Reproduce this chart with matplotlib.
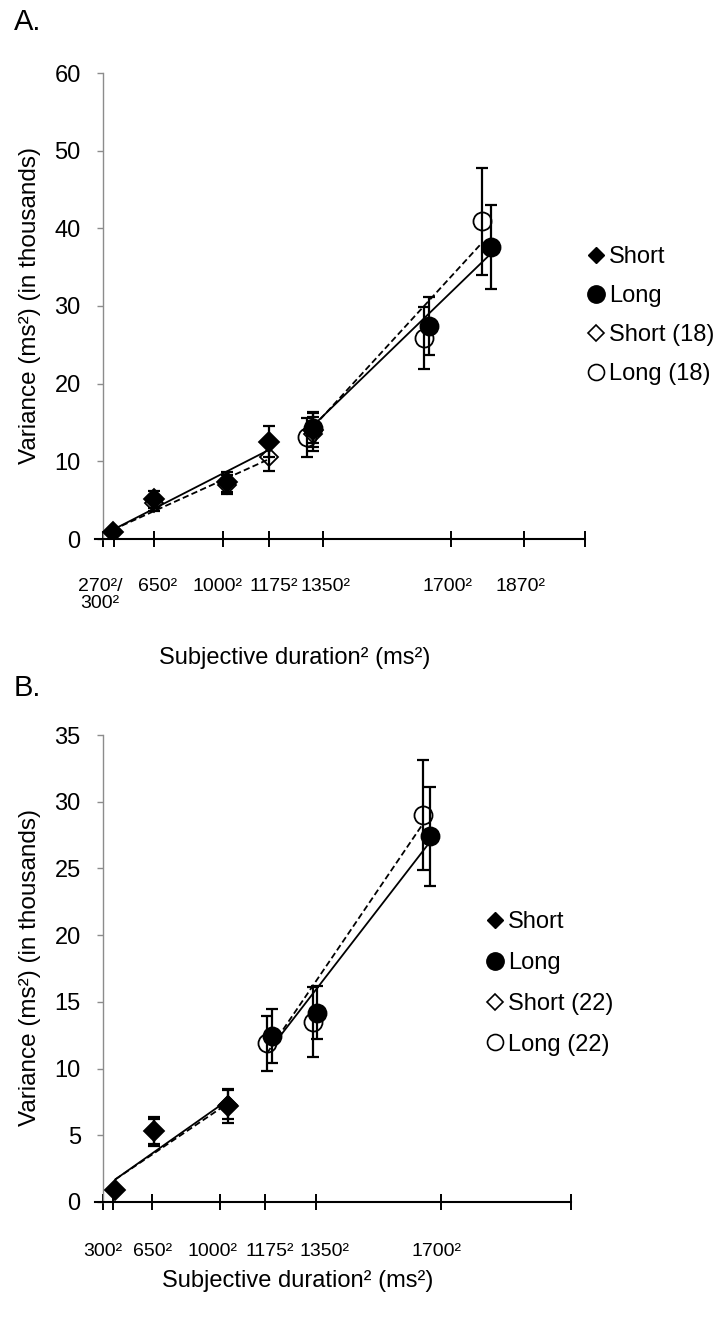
import numpy as np
import matplotlib
matplotlib.use("Agg")
import matplotlib.pyplot as plt
from matplotlib.lines import Line2D
import matplotlib.transforms as mtransforms

plt.rcParams['font.family'] = ['Liberation Sans', 'DejaVu Sans']

# ---- panel A data (x in ms^2, y in thousands of ms^2) ----
a_short_x = [83500, 421500, 1033000, 1380000, 1744000]
a_short_y = [0.9, 5.1, 7.3, 12.5, 14.0]
a_short_err = [0.3, 1.1, 1.3, 2.0, 2.2]
a_long_x = [1744000, 2702000, 3223000]
a_long_y = [14.3, 27.4, 37.6]
a_long_err = [2.0, 3.7, 5.4]
a_short18_x = [83500, 421500, 1033000, 1380000, 1744000]
a_short18_y = [0.9, 4.6, 7.0, 10.6, 13.5]
a_short18_err = [0.3, 1.0, 1.2, 1.8, 2.2]
a_long18_x = [1696000, 2661000, 3149000]
a_long18_y = [13.1, 25.9, 40.9]
a_long18_err = [2.5, 4.0, 6.9]

# trend lines (end points)
a_short_fit_x = [83500, 1380000]
a_short_fit_y = [1.2, 11.5]
a_short18_fit_x = [83500, 1380000]
a_short18_fit_y = [1.2, 10.3]
a_long_fit_x = [1744000, 3223000]
a_long_fit_y = [14.6, 36.8]
a_long18_fit_x = [1696000, 3149000]
a_long18_fit_y = [13.6, 38.2]

a_ticks = [0, 300**2, 650**2, 1000**2, 1175**2, 1350**2, 1700**2, 1870**2, 4000000]
a_tick_labels = ["270²/\n300²", "650²", "1000²", "1175²", "1350²", "1700²", "1870²"]
a_label_pos = [-24000, 454000, 951000, 1414000, 1844000, 2860000, 3464000]

# ---- panel B data ----
b_short_x = [106700, 438000, 1069000]
b_short_y = [0.9, 5.3, 7.2]
b_short_err = [0.2, 1.1, 1.25]
b_long_x = [1444700, 1829000, 2796000]
b_long_y = [12.45, 14.2, 27.4]
b_long_err = [2.0, 2.0, 3.7]
b_short22_x = [106700, 438000, 1069000]
b_short22_y = [0.9, 5.3, 7.3]
b_short22_err = [0.2, 0.95, 1.1]
b_long22_x = [1402000, 1797000, 2739000]
b_long22_y = [11.9, 13.5, 29.0]
b_long22_err = [2.05, 2.65, 4.1]

b_short_fit_x = [106700, 1069000]
b_short_fit_y = [1.7, 7.65]
b_short22_fit_x = [106700, 1069000]
b_short22_fit_y = [1.7, 7.4]
b_long_fit_x = [1444700, 2796000]
b_long_fit_y = [11.65, 27.0]
b_long22_fit_x = [1402000, 2739000]
b_long22_fit_y = [11.15, 28.4]

b_ticks = [0, 300**2, 650**2, 1000**2, 1175**2, 1350**2, 1700**2, 4000000]
b_tick_labels = ["300²", "650²", "1000²", "1175²", "1350²", "1700²"]
b_label_pos = [0, 422000, 937000, 1422000, 1891000, 2850000]

W, H = 718, 1322
fig = plt.figure(figsize=(W / 100, H / 100), dpi=100)


def px_axes(l, t, r, b):
    return fig.add_axes([l / W, 1 - b / H, (r - l) / W, (b - t) / H])


def panel(ax, series, fits, ymax, ystep, ticks, labels, label_pos, xmin, lab_y):
    ax.set_xlim(xmin, 4000000)
    ax.set_ylim(0, ymax)
    for s in ['top', 'right']:
        ax.spines[s].set_visible(False)
    ax.spines['left'].set_position(('data', 0))
    ax.spines['left'].set_color('#8c8c8c')
    ax.spines['left'].set_linewidth(1.0)
    ax.spines['bottom'].set_linewidth(1.5)
    ax.set_yticks(np.arange(0, ymax + 1, ystep))
    ax.tick_params(axis='y', direction='out', length=4, width=1, color='#8c8c8c',
                   labelsize=17, pad=12)
    ax.set_xticks(ticks)
    ax.tick_params(axis='x', direction='inout', length=12, width=1.4,
                   labelbottom=False)

    # trend lines
    for (fx, fy, ls) in fits:
        ax.plot(fx, fy, color='black', lw=1.3, linestyle=ls, zorder=2)

    for (x, y, e, marker, ms, filled) in series:
        ax.errorbar(x, y, yerr=e, fmt='none', ecolor='black', elinewidth=1.6,
                    capsize=4, capthick=1.6, zorder=3)
        ax.plot(x, y, linestyle='none', marker=marker, markersize=ms,
                markerfacecolor='black' if filled else 'none',
                markeredgecolor='black', markeredgewidth=1.3, zorder=4)

    trans = mtransforms.blended_transform_factory(ax.transData, ax.transAxes)
    for pos, lab in zip(label_pos, labels):
        ax.text(pos, lab_y, lab, transform=trans, ha='center', va='top',
                fontsize=14, linespacing=1.05)


dash = (0, (3.5, 1.8))

axA = px_axes(95, 73, 585, 539)
panel(axA,
      [(a_short18_x, a_short18_y, a_short18_err, 'D', 9.5, False),
       (a_long18_x, a_long18_y, a_long18_err, 'o', 13, False),
       (a_short_x, a_short_y, a_short_err, 'D', 10.5, True),
       (a_long_x, a_long_y, a_long_err, 'o', 13, True)],
      [(a_short_fit_x, a_short_fit_y, '-'), (a_short18_fit_x, a_short18_fit_y, dash),
       (a_long_fit_x, a_long_fit_y, '-'), (a_long18_fit_x, a_long18_fit_y, dash)],
      60, 10, a_ticks, a_tick_labels, a_label_pos, -66000, -0.083)

axB = px_axes(95, 735, 571, 1202)
panel(axB,
      [(b_short22_x, b_short22_y, b_short22_err, 'D', 9.5, False),
       (b_long22_x, b_long22_y, b_long22_err, 'o', 13, False),
       (b_short_x, b_short_y, b_short_err, 'D', 10.5, True),
       (b_long_x, b_long_y, b_long_err, 'o', 13, True)],
      [(b_short_fit_x, b_short_fit_y, '-'), (b_short22_fit_x, b_short22_fit_y, dash),
       (b_long_fit_x, b_long_fit_y, '-'), (b_long22_fit_x, b_long22_fit_y, dash)],
      35, 5, b_ticks, b_tick_labels, b_label_pos, -68000, -0.088)


def legend_handles():
    return [Line2D([], [], ls='none', marker='D', ms=8, mfc='black', mec='black'),
            Line2D([], [], ls='none', marker='o', ms=12.5, mfc='black', mec='black'),
            Line2D([], [], ls='none', marker='D', ms=8, mfc='none', mec='black', mew=1.2),
            Line2D([], [], ls='none', marker='o', ms=11.5, mfc='none', mec='black', mew=1.2)]


leg_kw = dict(loc='upper left', frameon=False, fontsize=17, handlelength=0.55,
              handletextpad=0.25, borderpad=0, borderaxespad=0)
fig.legend(legend_handles(), ["Short", "Long", "Short (18)", "Long (18)"],
           bbox_to_anchor=(590 / W, 1 - 246 / H), labelspacing=0.72, **leg_kw)
fig.legend(legend_handles(), ["Short", "Long", "Short (22)", "Long (22)"],
           bbox_to_anchor=(489 / W, 1 - 911 / H), labelspacing=0.8, **leg_kw)

# axis titles and panel letters
for top in [0, 662]:
    fig.text(30 / W, 1 - (306 + top) / H, "Variance (ms²) (in thousands)",
             rotation=90, ha='center', va='center', fontsize=17.5)
fig.text(295 / W, 1 - 658 / H, "Subjective duration² (ms²)", ha='center',
         va='center', fontsize=17)
fig.text(298 / W, 1 - 1281 / H, "Subjective duration² (ms²)", ha='center',
         va='center', fontsize=17)
fig.text(14 / W, 1 - 22 / H, "A.", ha='left', va='center', fontsize=21)
fig.text(14 / W, 1 - 688 / H, "B.", ha='left', va='center', fontsize=21)

fig.savefig("out.png", dpi=100)
